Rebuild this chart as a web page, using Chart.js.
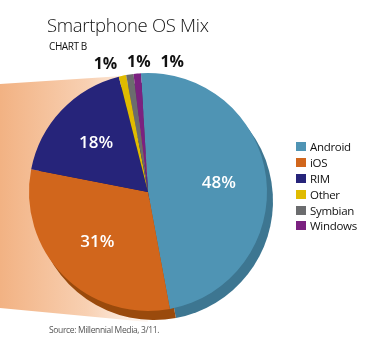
<!DOCTYPE html>
<html>
<head>
<meta charset="utf-8">
<script src="https://cdn.jsdelivr.net/npm/chart.js@4"></script>
<style>
  html, body { margin: 0; padding: 0; background: #fff; }
  #wrap { position: relative; width: 368px; height: 351px; overflow: hidden; font-family: "Open Sans", sans-serif; }
  #Chart { position: absolute; left: 0; top: 0; }
  .title { position: absolute; left: 47px; top: 12px; font-size: 18.5px; font-weight: 300; color: #111; letter-spacing: -0.3px; }
  .sub { position: absolute; left: 49px; top: 39px; font-size: 10px; color: #111; letter-spacing: -0.4px; }
  .source { position: absolute; left: 49px; top: 324px; font-size: 8.5px; color: #555; letter-spacing: -0.35px; }
  #legend { position: absolute; left: 296px; top: 139px; }
  .row { height: 15.8px; display: flex; align-items: center; font-size: 11.5px; color: #111; letter-spacing: -0.3px; }
  .sw { width: 10px; height: 9px; margin-right: 4px; }
</style>
</head>
<body>
<div id="wrap">
  <canvas id="Chart" width="368" height="351"></canvas>
  <div class="title">Smartphone OS Mix</div>
  <div class="sub">CHART B</div>
  <div id="legend"></div>
  <div class="source">Source: Millennial Media, 3/11.</div>
</div>
<script>
const labels = ["Android", "iOS", "RIM", "Other", "Symbian", "Windows"];
const shares = [48, 31, 18, 1, 1, 1];
const colors = ["#4f94b4", "#d1661c", "#26247a", "#e0bb00", "#6b6c6e", "#7b2180"];
const sideColors = ["#3d7691", "#9a4a0c", "#1a1858", "#a88c00", "#4e4f50", "#5a165e"];

// legend (html, from the same arrays)
const legendBox = document.querySelector("#legend");
labels.forEach((name, i) => {
  const row = document.createElement("div");
  row.className = "row";
  row.innerHTML = '<span class="sw" style="background:' + colors[i] + '"></span>' + name;
  legendBox.appendChild(row);
});

// peach fan behind the pie + the darker pie side
const fanPlugin = {
  id: "fan",
  beforeDatasetsDraw(chart) {
    const ctx = chart.ctx;
    const arc = chart.getDatasetMeta(0).data[0];
    const cx = arc.x, cy = arc.y, r = arc.outerRadius;
    const g = ctx.createLinearGradient(0, 0, cx + 10, 0);
    g.addColorStop(0, "#f2b283");
    g.addColorStop(0.55, "#f8d0b2");
    g.addColorStop(1, "#ffffff");
    ctx.save();
    ctx.fillStyle = g;
    ctx.beginPath();
    ctx.moveTo(0, cy - r + 11);
    ctx.lineTo(cx - 10, cy - r + 2);
    ctx.lineTo(cx, cy + r + 11);
    ctx.lineTo(0, cy + r - 3);
    ctx.closePath();
    ctx.fill();

    chart.getDatasetMeta(0).data.forEach((a, i) => {
      ctx.fillStyle = sideColors[i];
      ctx.beginPath();
      ctx.moveTo(a.x + 6, a.y + 9);
      ctx.arc(a.x + 6, a.y + 9, a.outerRadius, a.startAngle, a.endAngle);
      ctx.closePath();
      ctx.fill();
    });
    ctx.restore();
  },
  afterDatasetsDraw(chart) {
    const ctx = chart.ctx;
    const meta = chart.getDatasetMeta(0);
    ctx.save();
    ctx.textAlign = "center";
    ctx.textBaseline = "middle";
    let small = 0;
    meta.data.forEach((a, i) => {
      const mid = (a.startAngle + a.endAngle) / 2;
      if (shares[i] >= 5) {
        const rr = a.outerRadius * 0.6;
        ctx.fillStyle = "#fff";
        ctx.font = "600 17px 'Open Sans'";
        ctx.fillText(shares[i] + "%", a.x + Math.cos(mid) * rr, a.y + Math.sin(mid) * rr);
      } else {
        // tiny slices: labels in a row above the pie
        ctx.fillStyle = "#111";
        ctx.font = "bold 16px 'Open Sans'";
        const px = a.x + Math.cos(mid) * a.outerRadius;
        ctx.fillText(shares[i] + "%", px - 17 + small * 26, a.y - a.outerRadius - 11 + (small === 0 ? 2 : 0));
        small++;
      }
    });
    ctx.restore();
  }
};

new Chart(document.querySelector("#Chart"), {
  type: "pie",
  data: {
    labels: labels,
    datasets: [{
      data: shares,
      backgroundColor: colors,
      borderWidth: 0
    }]
  },
  options: {
    responsive: false,
    animation: false,
    rotation: -3.4,
    layout: { padding: { left: 29, right: 101, top: 73, bottom: 40 } },
    plugins: {
      legend: { display: false },
      tooltip: { enabled: false }
    }
  },
  plugins: [fanPlugin]
});
</script>
</body>
</html>
